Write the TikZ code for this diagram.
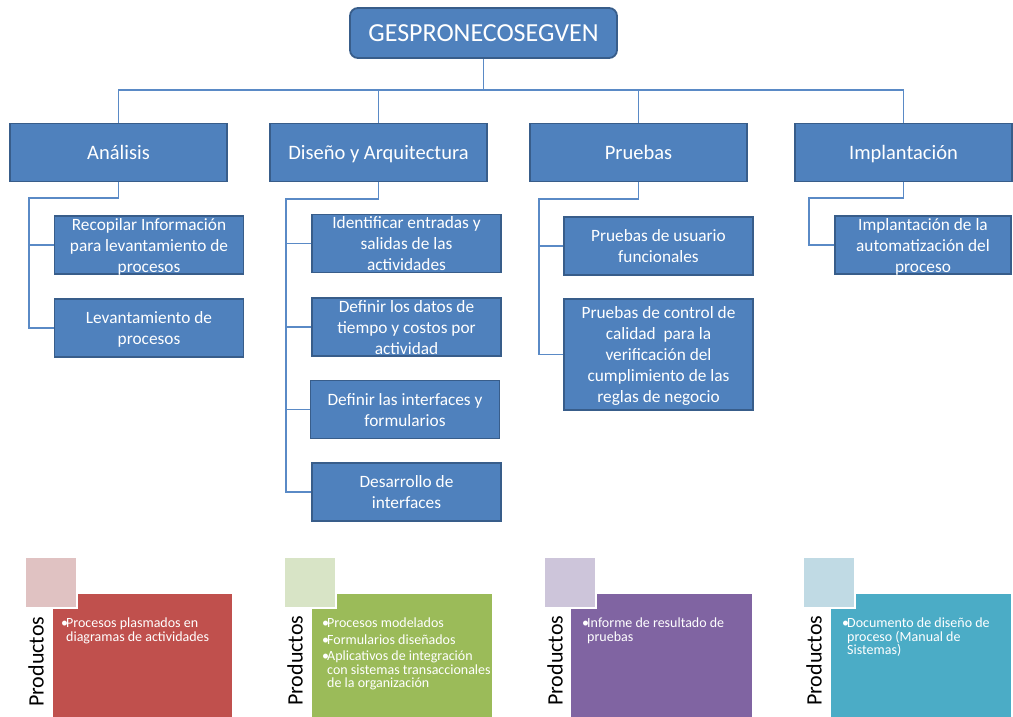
\documentclass[tikz,border=0pt]{standalone}
\usepackage{fontspec}
\setmainfont{Carlito}
\definecolor{boxfill}{HTML}{4F81BD}
\definecolor{boxline}{HTML}{385D8A}
\definecolor{connblue}{HTML}{5A8AC6}
\definecolor{redA}{HTML}{C0504D}
\definecolor{redB}{HTML}{E0C2C2}
\definecolor{greenA}{HTML}{9BBB59}
\definecolor{greenB}{HTML}{D8E4C6}
\definecolor{purpleA}{HTML}{8064A2}
\definecolor{purpleB}{HTML}{CDC5DA}
\definecolor{aquaA}{HTML}{4BACC6}
\definecolor{aquaB}{HTML}{C0DAE4}
\begin{document}
\begin{tikzpicture}[x=1pt,y=-1pt,
  box/.style={draw=boxline, fill=boxfill, line width=1.8pt, text=white, align=center, inner sep=0pt},
  rootbox/.style={box, rounded corners=8pt, minimum width=267pt, minimum height=50pt,
    font=\fontsize{26}{30}\selectfont, text height=17pt, text depth=0pt},
  phasebox/.style={box, minimum width=217pt, minimum height=58pt,
    font=\fontsize{20.5}{24}\selectfont, text height=14pt, text depth=1pt},
  taskbox/.style={box, minimum width=189pt, minimum height=58pt,
    font=\fontsize{17.3}{21}\selectfont, text depth=-1.5pt},
  conn/.style={draw=connblue, line width=1.5pt},
  prodlabel/.style={rotate=90, anchor=base west, inner sep=0pt, font=\fontsize{22}{26}\selectfont},
  prodtext/.style={anchor=north west, inner sep=0pt, align=left, text=white, font=\fontsize{14}{13.5}\selectfont},
  prodpanel/.style={draw=white, line width=1pt},
  prodtab/.style={draw=white, line width=2pt}
]
\useasboundingbox (0,0) rectangle (1013,716);

% root and phases
\node[rootbox] (root) at (483.5,33) {GESPRONECOSEGVEN};
\node[phasebox] (ana) at (118.5,152.5) {Análisis};
\node[phasebox] (dis) at (378.5,152.5) {Diseño y Arquitectura};
\node[phasebox] (pru) at (638.5,152.5) {Pruebas};
\node[phasebox] (imp) at (903.5,152.5) {Implantación};

\coordinate (bus) at (483.5,90);
\draw[conn] (root.south) -- (bus);
\draw[conn] (ana.north) |- (bus) -| (imp.north);
\draw[conn] (dis.north) -- (dis.north |- bus);
\draw[conn] (pru.north) -- (pru.north |- bus);

% tasks of each phase
\node[taskbox] (a1) at (149,245) {Recopilar Información\\para levantamiento de\\procesos};
\node[taskbox] (a2) at (149,328) {Levantamiento de\\procesos};

\node[taskbox] (d1) at (406.5,243.5) {Identificar entradas y\\salidas de las\\actividades};
\node[taskbox] (d2) at (406.5,327) {Definir los datos de\\tiempo y costos por\\actividad};
\node[taskbox] (d3) at (405,409.5) {Definir las interfaces y\\formularios};
\node[taskbox] (d4) at (406.5,492) {Desarrollo de\\interfaces};

\node[taskbox] (p1) at (658.5,246) {Pruebas de usuario\\funcionales};
\node[taskbox, minimum height=111pt] (p2) at (658.5,354.5) {Pruebas de control de\\calidad\ \ para la\\verificación del\\cumplimiento de las\\reglas de negocio};

\node[taskbox, minimum width=176pt] (i1) at (923,245) {Implantación de la\\automatización del\\proceso};

% tree connectors
\coordinate (as) at (29,198);
\draw[conn] (ana.south) |- (as) |- (a2.west);
\draw[conn] (as |- a1.west) -- (a1.west);

\coordinate (ds) at (286,199);
\draw[conn] (dis.south) |- (ds) |- (d4.west);
\draw[conn] (ds |- d1.west) -- (d1.west);
\draw[conn] (ds |- d2.west) -- (d2.west);
\draw[conn] (ds |- d3.west) -- (d3.west);

\coordinate (ps) at (539,199);
\draw[conn] (pru.south) |- (ps) |- (p2.west);
\draw[conn] (ps |- p1.west) -- (p1.west);

\coordinate (is) at (809,198);
\draw[conn] (imp.south) |- (is) |- (i1.west);

% product panels
\fill[redA, prodpanel] (52,593) rectangle (232,717);
\fill[redB, prodtab] (25,557) rectangle (77,608);
\node[prodlabel] (pl1) at (43.5,707) {Productos};
\node[prodtext] (pt1) at (61,618) {\makebox[5pt][l]{\textbullet}Procesos plasmados en\\\hspace*{5pt}diagramas de actividades};

\fill[greenA, prodpanel] (311,593) rectangle (492,717);
\fill[greenB, prodtab] (284,557) rectangle (336,608);
\node[prodlabel] (pl2) at (302.5,706) {Productos};
\node[prodtext] (pt2) at (322,618) {\makebox[5pt][l]{\textbullet}Procesos modelados\\[3pt]\makebox[5pt][l]{\textbullet}Formularios diseñados\\[3pt]\makebox[5pt][l]{\textbullet}Aplicativos de integración\\\hspace*{5pt}con sistemas transaccionales\\\hspace*{5pt}de la organización};

\fill[purpleA, prodpanel] (570,593) rectangle (752,717);
\fill[purpleB, prodtab] (544,557) rectangle (596,608);
\node[prodlabel] (pl3) at (562.5,706) {Productos};
\node[prodtext] (pt3) at (582,618) {\makebox[5pt][l]{\textbullet}Informe de resultado de\\\hspace*{5pt}pruebas};

\fill[aquaA, prodpanel] (830,593) rectangle (1011,717);
\fill[aquaB, prodtab] (803,557) rectangle (855,608);
\node[prodlabel] (pl4) at (821.5,706) {Productos};
\node[prodtext] (pt4) at (842,618) {\makebox[5pt][l]{\textbullet}Documento de diseño de\\\hspace*{5pt}proceso (Manual de\\\hspace*{5pt}Sistemas)};
\end{tikzpicture}
\end{document}
